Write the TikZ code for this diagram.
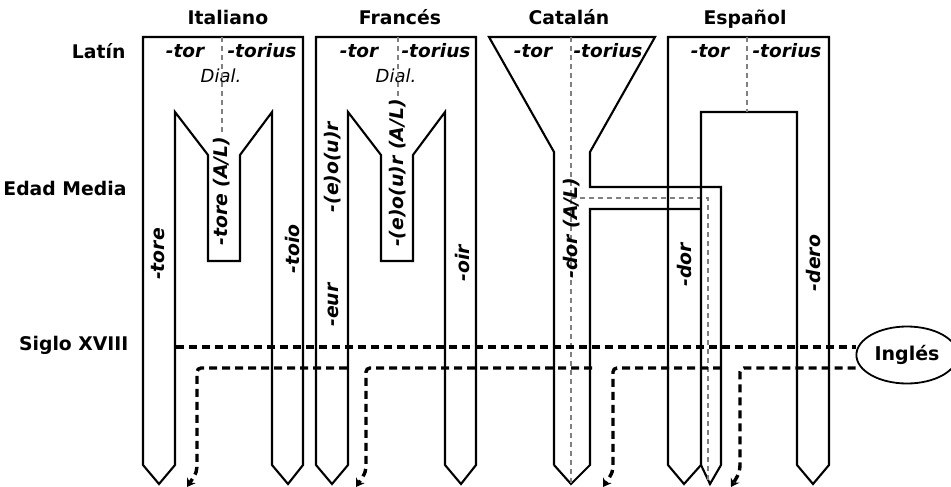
\documentclass[tikz,border=0pt]{standalone}
\usepackage{fontspec}
\setmainfont{DejaVu Sans}
\usetikzlibrary{arrows.meta,shapes.geometric}

\begin{document}
\begin{tikzpicture}[x=1pt,y=-1pt,
  wall/.style={line width=2.1pt},
  split/.style={gray,line width=1.3pt,dash pattern=on 5pt off 4pt},
  loan/.style={line width=3.4pt,dash pattern=on 8pt off 5pt,rounded corners=4pt},
  lang/.style={font=\fontsize{18.8}{22}\selectfont\bfseries,anchor=base},
  age/.style={font=\fontsize{18.8}{22}\selectfont\bfseries,anchor=base east},
  suf/.style={font=\fontsize{18.5}{22}\selectfont\bfseries\itshape,anchor=base},
  form/.style={font=\fontsize{18.8}{22}\selectfont\bfseries\itshape,rotate=90}]
\useasboundingbox (0,0) rectangle (951,487);
\node[lang] (ita) at (228,25) {Italiano};
\node[lang] (fra) at (400,25) {Francés};
\node[lang] (cat) at (569,25) {Catalán};
\node[lang] (esp) at (745,25) {Español};
\node[age] (latin) at (129,59) {Latín};
\node[age] (medieval) at (130,195) {Edad Media};
\node[age] (xviii) at (132,350) {Siglo XVIII};
\foreach \a/\b in {185/262,359/436,533/608,710/787} {
  \node[suf] (tor\a) at (\a,58) {-tor};
  \node[suf] (torius\b) at (\b,58) {-torius};
}
\foreach \a in {221,396}
  \node[font=\fontsize{18}{22}\selectfont\itshape,anchor=base] (dial\a) at (\a,83) {Dial.};
% Italiano, Frances
\foreach \x in {143,316}
  \draw[wall,shift={(\x,0)}] (0,37) -- (0,465) -- (16,484) -- (32,465) -- (32,112) -- (65,155)
    -- (65,261) -- (97,261) -- (97,155) -- (129,112) -- (129,465) -- (145,484) -- (160,465)
    -- (160,37) -- cycle;
\draw[split] (222,37) -- (222,133);
\draw[split] (398,37) -- (398,97);
% Catalan
\draw[wall] (554,465) -- (554,152) -- (489,37) -- (655,37) -- (590,152) -- (590,187) -- (721,187)
  -- (721,465) -- (710,484) -- (701,465);
\draw[wall] (701,209) -- (590,209) -- (590,465) -- (571,484) -- (554,465);
\draw[split] (571,37) -- (571,484);
\draw[split] (571,198) -- (708,198) -- (708,484);
% Espanol
\draw[wall] (668,465) -- (668,37) -- (829,37) -- (829,465) -- (813,484) -- (797,465) -- (797,112)
  -- (701,112) -- (701,465) -- (684,484) -- cycle;
\draw[split] (747,37) -- (747,112);
\node[form] (tore) at (158,254) {-tore};
\node[form] (toreal) at (222,191) {-tore (A/L)};
\node[form] (toio) at (292,249) {-toio};
\node[form] (eour) at (333,167) {-(e)o(u)r};
\node[form] (eoural) at (398,173) {-(e)o(u)r (A/L)};
\node[form] (eur) at (333,305) {-eur};
\node[form] (oir) at (462,263) {-oir};
\node[form] (doral) at (572,228) {-dor (A/L)};
\node[form] (dor) at (684,265) {-dor};
\node[form] (dero) at (813,263) {-dero};
\node[draw,ellipse,line width=1.8pt,fill=white,minimum width=88pt,minimum height=57pt,
  font=\fontsize{19}{22}\selectfont\bfseries] (ingles) at (907,355) {Inglés};
\coordinate (up) at (176,347);
\draw[loan] (up) -- (up -| ingles.west);
\draw[loan,-{Stealth[length=8pt,width=10pt]}] (ingles.west |- 0,368) -- (740,368) -- (740,456)
  .. controls (740,472) .. (731,487);
\foreach \s/\d in {721/613,592/366,347/197}
  \draw[loan,-{Stealth[length=8pt,width=10pt]}] (\s,368) -- (\d,368) -- (\d,456)
    .. controls (\d,472) .. (\d-10,487);
\end{tikzpicture}
\end{document}
